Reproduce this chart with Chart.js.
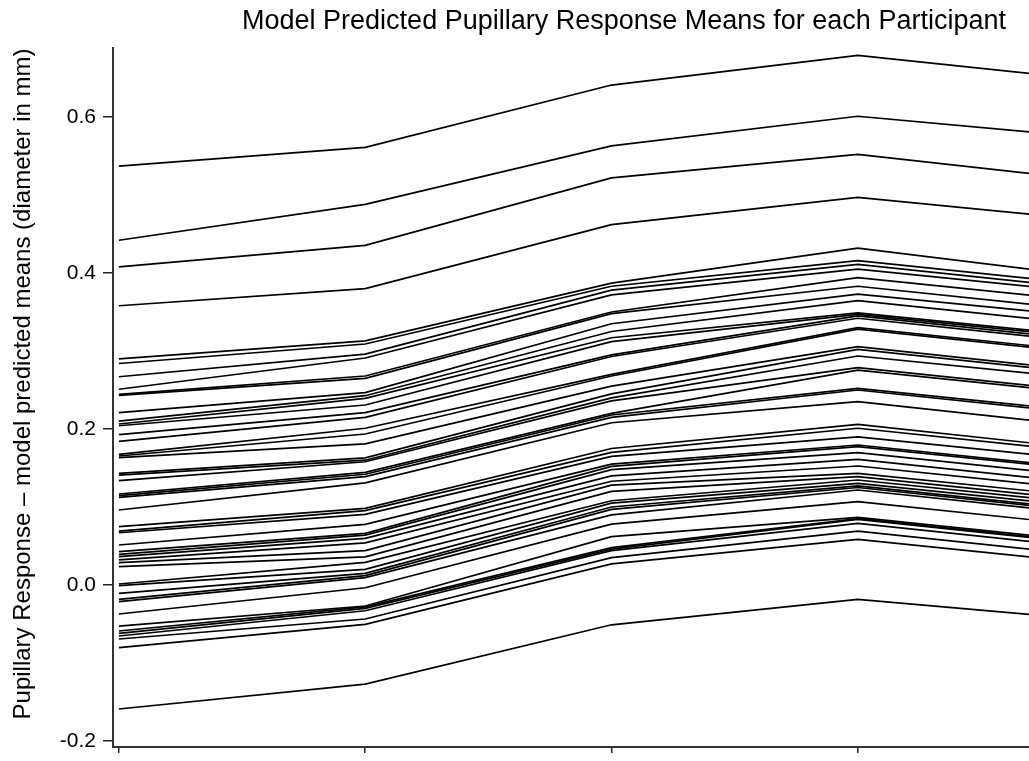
<!DOCTYPE html>
<html>
<head>
<meta charset="utf-8">
<script src="https://cdn.jsdelivr.net/npm/chart.js@4.4.1/dist/chart.umd.min.js"></script>
<style>
  html, body { margin: 0; padding: 0; background: #ffffff; }
  #wrap { width: 1029px; height: 761px; }
</style>
</head>
<body>
<div id="wrap"><canvas id="chart" width="1029" height="761"></canvas></div>
<script>
const titleText = 'Model Predicted Pupillary Response Means for each Participant';
const yAxisTitle = 'Pupillary Response \u2013 model predicted means (diameter in mm)';

// condition positions along the x axis
const conditions = [0, 1, 2, 3, 4];

// y axis ticks
const yTickValues = [-0.2, 0.0, 0.2, 0.4, 0.6];
const yTickLabels = ['-0.2', '0.0', '0.2', '0.4', '0.6'];

// predicted mean per participant (one entry per participant) for each condition
const cond1 = [0.537, 0.442, 0.408, 0.358, 0.290, 0.284, 0.267, 0.251, 0.2445, 0.243,
               0.221, 0.210, 0.2064, 0.2042, 0.1927, 0.1842, 0.1675, 0.1654, 0.1632, 0.1432,
               0.141, 0.1338, 0.1167, 0.1145, 0.1124, 0.0962, 0.0748, 0.0692, 0.067, 0.0513,
               0.0427, 0.0393, 0.0363, 0.0321, 0.0286, 0.0235, 0.0013, -0.0009, -0.0107, -0.0184,
               -0.0214, -0.0372, -0.0526, -0.059, -0.062, -0.0654, -0.0692, -0.0803, -0.159];
const cond2 = [0.561, 0.488, 0.4355, 0.380, 0.313, 0.309, 0.296, 0.291, 0.268, 0.265,
               0.2466, 0.2427, 0.2393, 0.2308, 0.221, 0.215, 0.201, 0.1936, 0.181, 0.163,
               0.160, 0.158, 0.1445, 0.142, 0.139, 0.131, 0.0983, 0.0953, 0.0906, 0.0778,
               0.0662, 0.064, 0.0598, 0.054, 0.044, 0.036, 0.029, 0.020, 0.015, 0.012,
               0.0094, -0.0035, -0.0269, -0.028, -0.030, -0.033, -0.0436, -0.0504, -0.127];
const cond3 = [0.641, 0.563, 0.522, 0.462, 0.387, 0.383, 0.378, 0.372, 0.350, 0.348,
               0.335, 0.325, 0.317, 0.312, 0.295, 0.293, 0.270, 0.268, 0.255, 0.245,
               0.240, 0.236, 0.220, 0.218, 0.215, 0.208, 0.175, 0.170, 0.165, 0.155,
               0.152, 0.148, 0.140, 0.133, 0.128, 0.120, 0.108, 0.105, 0.100, 0.097,
               0.090, 0.078, 0.062, 0.048, 0.046, 0.044, 0.035, 0.027, -0.051];
const cond4 = [0.679, 0.601, 0.552, 0.497, 0.432, 0.416, 0.411, 0.405, 0.394, 0.383,
               0.373, 0.3645, 0.349, 0.347, 0.345, 0.342, 0.330, 0.328, 0.3055, 0.302,
               0.2936, 0.2786, 0.2756, 0.252, 0.250, 0.235, 0.206, 0.201, 0.190, 0.1795,
               0.1773, 0.1696, 0.161, 0.1526, 0.1432, 0.139, 0.1346, 0.1304, 0.127, 0.125,
               0.1218, 0.1068, 0.0868, 0.085, 0.084, 0.079, 0.069, 0.0586, -0.0184];
const cond5 = [0.646, 0.572, 0.517, 0.466, 0.393, 0.383, 0.378, 0.373, 0.362, 0.350,
               0.342, 0.332, 0.317, 0.315, 0.312, 0.309, 0.297, 0.295, 0.272, 0.269,
               0.262, 0.246, 0.243, 0.220, 0.217, 0.201, 0.172, 0.168, 0.158, 0.147,
               0.145, 0.137, 0.128, 0.120, 0.111, 0.106, 0.102, 0.098, 0.094, 0.092,
               0.089, 0.074, 0.054, 0.052, 0.051, 0.046, 0.036, 0.026, -0.046];

const byCondition = [cond1, cond2, cond3, cond4, cond5];

const datasets = cond1.map((_, p) => ({
  label: 'Participant ' + (p + 1),
  data: conditions.map((x, k) => ({ x: x, y: byCondition[k][p] })),
  borderColor: '#000000',
  borderWidth: 1.7,
  pointRadius: 0,
  tension: 0,
  fill: false
}));

const FONT = '"Liberation Sans", Arial, Helvetica, sans-serif';

// title and rotated axis label
const figureText = {
  id: 'figureText',
  afterDraw(chart) {
    const ctx = chart.ctx;
    ctx.save();
    ctx.fillStyle = '#000000';
    ctx.textAlign = 'center';
    ctx.textBaseline = 'middle';
    ctx.font = '27px ' + FONT;
    ctx.fillText(titleText, 624, 22);
    ctx.translate(23, 384);
    ctx.rotate(-Math.PI / 2);
    ctx.font = '24px ' + FONT;
    ctx.fillText(yAxisTitle, 0, 0);
    ctx.restore();
  }
};

new Chart(document.getElementById('chart'), {
  type: 'line',
  data: { datasets: datasets },
  plugins: [figureText],
  options: {
    responsive: false,
    animation: false,
    devicePixelRatio: 1,
    layout: { padding: { top: 48, left: 0, right: 0, bottom: 0 } },
    plugins: {
      legend: { display: false },
      title: { display: false },
      tooltip: { enabled: false }
    },
    scales: {
      x: {
        type: 'linear',
        min: -0.024,
        max: 3.695,
        afterBuildTicks: s => { s.ticks = [0, 1, 2, 3].map(v => ({ value: v })); },
        afterFit: s => { s.height = 14; s.paddingLeft = 0; s.paddingRight = 0; },
        ticks: { display: false },
        grid: { drawOnChartArea: false, drawTicks: true, tickLength: 6, color: '#222222', lineWidth: 1.5 },
        border: { display: true, color: '#333333', width: 2 }
      },
      y: {
        type: 'linear',
        min: -0.2077,
        max: 0.6885,
        afterBuildTicks: s => { s.ticks = yTickValues.map(v => ({ value: v })); },
        afterFit: s => { s.width = 113; s.paddingTop = 0; s.paddingBottom = 0; },
        ticks: {
          color: '#000000',
          padding: 7,
          font: { size: 21, family: FONT },
          callback: (v, i) => yTickLabels[i]
        },
        grid: { drawOnChartArea: false, drawTicks: true, tickLength: 10, color: '#222222', lineWidth: 1.5 },
        border: { display: true, color: '#333333', width: 2 }
      }
    }
  }
});
</script>
</body>
</html>
